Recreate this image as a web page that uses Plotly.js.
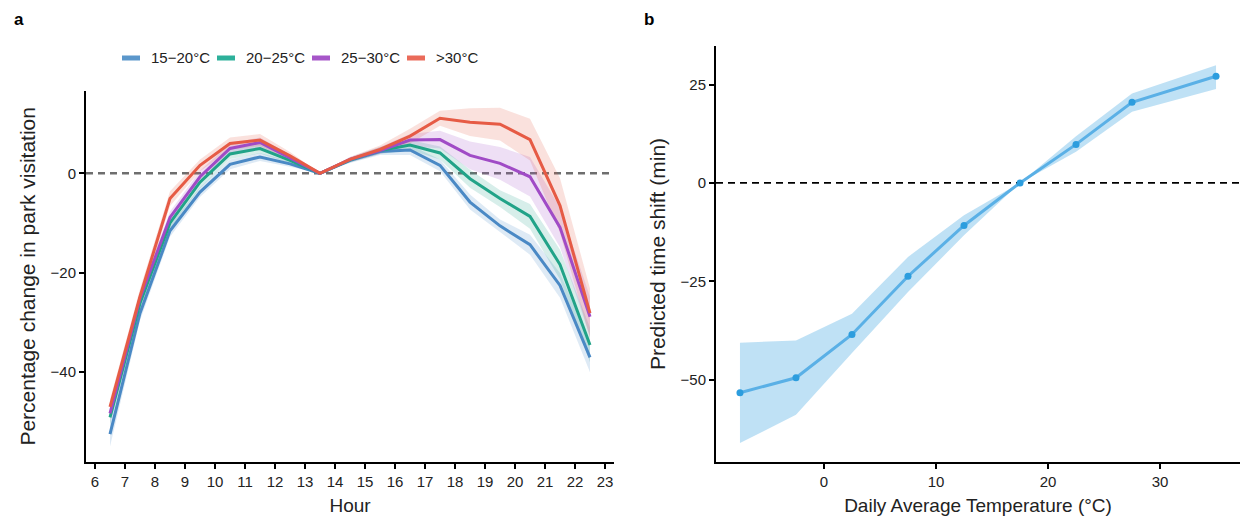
<!DOCTYPE html>
<html>
<head>
<meta charset="utf-8">
<script src="https://cdn.plot.ly/plotly-3.0.1.min.js"></script>
<style>html,body{margin:0;padding:0;background:#fff}#chart{width:1243px;height:516px}</style>
</head>
<body>
<div id="chart"></div>
<script>
// ---------- Panel a data ----------
const hours = [6.5,7.5,8.5,9.5,10.5,11.5,12.5,13.5,14.5,15.5,16.5,17.5,18.5,19.5,20.5,21.5,22.5];
const seriesNames = ["15\u221220\u00b0C","20\u221225\u00b0C","25\u221230\u00b0C",">30\u00b0C"];
const change15_20 = [-52.6,-28.2,-11.6,-3.8,1.8,3.3,1.9,0,2.6,4.4,4.7,1.6,-5.8,-10.6,-14.4,-22.6,-37.1];
const change20_25 = [-49.2,-26.2,-10.0,-1.8,3.9,5.0,2.6,0,2.7,4.6,5.7,4.1,-1.1,-5.1,-8.7,-18.4,-34.6];
const change25_30 = [-48.4,-25.2,-8.9,-0.7,5.0,6.2,3.1,0,2.8,4.6,6.7,6.8,3.6,2.0,-0.7,-10.9,-28.9];
const changeAbove30 = [-47.1,-24.8,-5.1,1.6,6.0,6.7,3.5,0,2.8,4.8,7.5,11.1,10.3,9.9,6.8,-6.5,-28.2];
const ci15_20 = [2.5,1.5,1.2,1.0,1.0,0.8,0.6,0,0.5,0.7,1.0,1.2,1.5,1.3,2.0,2.5,3.0];
const ci20_25 = [1.5,1.2,1.2,1.2,1.0,1.0,0.6,0,0.5,0.7,1.0,1.3,1.8,1.7,2.5,3.0,3.5];
const ci25_30 = [1.5,1.2,1.2,1.2,1.0,1.0,0.6,0,0.5,0.7,1.2,1.8,2.8,3.3,4.0,4.0,4.0];
const ciAbove30 = [1.5,1.5,1.5,1.2,1.2,1.2,0.8,0,0.5,0.8,1.5,1.5,2.8,3.3,4.2,5.5,5.0];
const hourTicks = [6,7,8,9,10,11,12,13,14,15,16,17,18,19,20,21,22,23];

// ---------- Panel b data ----------
const temps = [-7.5,-2.5,2.5,7.5,12.5,17.5,22.5,27.5,35];
const shift = [-53.3,-49.5,-38.5,-23.7,-10.8,0,9.8,20.5,27.1];
const shiftLower = [-66.1,-58.9,-43.2,-27.7,-13.3,0,7.9,18.1,23.9];
const shiftUpper = [-40.6,-40.0,-33.2,-18.8,-8.2,0,11.9,22.7,29.9];

const colors = ["#4A89C5","#21A388","#A04BC6","#E65B45"];
const legendColors = ["#5B97CB","#2DB09A","#A656C8","#EA6B5A"];
const fills = ["rgba(74,137,197,0.18)","rgba(33,163,136,0.18)","rgba(160,75,198,0.18)","rgba(230,91,69,0.18)"];
const values = [change15_20, change20_25, change25_30, changeAbove30];
const cis = [ci15_20, ci20_25, ci25_30, ciAbove30];

const traces = [];
// ribbons
for (let i = 0; i < 4; i++) {
  traces.push({x: hours, y: values[i].map((v,k)=>v-cis[i][k]), mode:'lines', line:{width:0,color:fills[i]},
    showlegend:false, hoverinfo:'skip', xaxis:'x', yaxis:'y'});
  traces.push({x: hours, y: values[i].map((v,k)=>v+cis[i][k]), mode:'lines', line:{width:0,color:fills[i]},
    fill:'tonexty', fillcolor:fills[i], showlegend:false, hoverinfo:'skip', xaxis:'x', yaxis:'y'});
}
// lines
for (let i = 0; i < 4; i++) {
  traces.push({x: hours, y: values[i], mode:'lines', name: seriesNames[i], showlegend:false,
    line:{color:colors[i], width:3}, xaxis:'x', yaxis:'y'});
}
// panel b
traces.push({x: temps, y: shiftLower, mode:'lines', line:{width:0,color:'rgba(86,176,230,0.38)'},
  showlegend:false, hoverinfo:'skip', xaxis:'x2', yaxis:'y2'});
traces.push({x: temps, y: shiftUpper, mode:'lines', line:{width:0,color:'rgba(86,176,230,0.38)'},
  fill:'tonexty', fillcolor:'rgba(86,176,230,0.38)', showlegend:false, hoverinfo:'skip', xaxis:'x2', yaxis:'y2'});
traces.push({x: temps, y: shift, mode:'lines+markers', showlegend:false,
  line:{color:'#5AB0E6', width:3}, marker:{color:'#2C9DDE', size:7}, xaxis:'x2', yaxis:'y2'});

const W = 1243, H = 516;
const font = {family:'"Liberation Sans", Arial, sans-serif', size:15, color:'#222'};
const axisCommon = {showline:true, linecolor:'#000', linewidth:2, ticks:'outside', ticklen:5, tickwidth:2,
  tickcolor:'#000', showgrid:false, zeroline:false, tickfont:{size:15,color:'#222'}, automargin:false};

// custom legend (line key + label), laid out in pixels
const legendShapes = [], legendAnn = [];
const legY = 1 - 58/H;
for (let i = 0; i < 4; i++) {
  const x0 = 122 + 95*i;
  legendShapes.push({type:'line', xref:'paper', yref:'paper', x0:x0/W, x1:(x0+18)/W, y0:legY, y1:legY,
    line:{color:legendColors[i], width:5}});
  legendAnn.push({text:seriesNames[i], xref:'paper', yref:'paper', x:(x0+27)/W, y:legY, xanchor:'left',
    yanchor:'middle', showarrow:false, font:{size:15,color:'#222'}});
}

const layout = {
  width:W, height:H, margin:{l:0,r:0,t:0,b:0}, paper_bgcolor:'#fff', plot_bgcolor:'#fff', font:font,
  showlegend:false,
  xaxis: Object.assign({}, axisCommon, {domain:[86/W, 614/W], range:[5.7,23.3], tickmode:'array',
    tickvals:hourTicks, ticktext:hourTicks.map(String), anchor:'y',
    title:{text:'Hour', font:{size:19,color:'#222'}, standoff:10}}),
  yaxis: Object.assign({}, axisCommon, {domain:[1-462/H, 1-90.7/H], range:[-58.2,16.65], dtick:20, anchor:'x',
    title:{text:'Percentage change in park visitation', font:{size:21,color:'#222'}, standoff:9}}),
  xaxis2: Object.assign({}, axisCommon, {domain:[716/W, 1240/W], range:[-9.64,37.14], dtick:10, anchor:'y2',
    title:{text:'Daily Average Temperature (\u00b0C)', font:{size:19,color:'#222'}, standoff:10}}),
  yaxis2: Object.assign({}, axisCommon, {domain:[1-462/H, 1-46/H], range:[-70.9,34.8], dtick:25, anchor:'x2',
    title:{text:'Predicted time shift (min)', font:{size:21,color:'#222'}, standoff:9}}),
  shapes:[
    {type:'line', xref:'x domain', yref:'y', x0:0, x1:1, y0:0, y1:0, layer:'below',
      line:{color:'#6E6E6E', width:2.5, dash:'7px,5px'}},
    {type:'line', xref:'x2 domain', yref:'y2', x0:0, x1:1, y0:0, y1:0, layer:'below',
      line:{color:'#000', width:1.8, dash:'7px,5px'}}
  ].concat(legendShapes),
  annotations:[
    {text:'<b>a</b>', xref:'paper', yref:'paper', x:12/W, y:1-20/H, xanchor:'left', yanchor:'middle',
      showarrow:false, font:{size:17,color:'#000'}},
    {text:'<b>b</b>', xref:'paper', yref:'paper', x:642/W, y:1-20/H, xanchor:'left', yanchor:'middle',
      showarrow:false, font:{size:17,color:'#000'}}
  ].concat(legendAnn)
};

Plotly.newPlot('chart', traces, layout, {staticPlot:true, displayModeBar:false});
</script>
</body>
</html>
